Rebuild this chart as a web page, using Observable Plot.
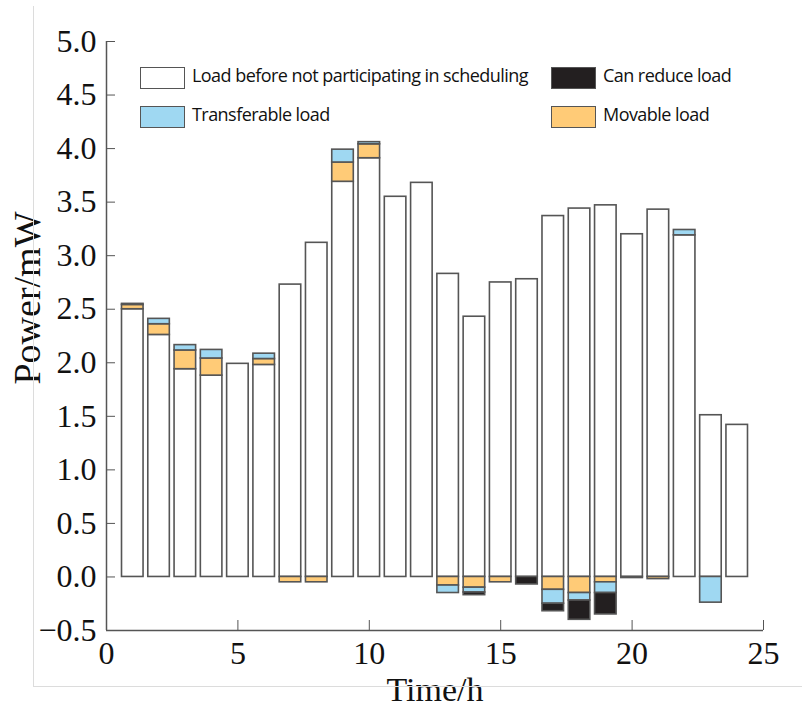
<!DOCTYPE html>
<html>
<head>
<meta charset="utf-8">
<script src="https://cdn.jsdelivr.net/npm/d3@7"></script>
<script src="https://cdn.jsdelivr.net/npm/@observablehq/plot@0.6"></script>
<style>
  html, body { margin: 0; padding: 0; background: #fff; }
  #wrap { position: relative; width: 802px; height: 712px; overflow: hidden; }
  #frame { position: absolute; left: 33px; top: 6px; width: 775px; height: 680px;
           border-left: 1px solid #dcdcdc; border-bottom: 1px solid #dcdcdc; pointer-events: none; }
  .leg { position: absolute; font-family: "Open Sans", sans-serif; font-size: 18px; color: #111;
         letter-spacing: -0.55px; white-space: nowrap; line-height: 1; }
  .sw { position: absolute; width: 45px; height: 22px; box-sizing: border-box; border: 1.5px solid #555; }
</style>
</head>
<body>
<div id="wrap">
  <div id="chart"></div>
  <div id="frame"></div>
  <div id="legend"></div>
</div>
<script>
// ---- data ----
const hours = [1,2,3,4,5,6,7,8,9,10,11,12,13,14,15,16,17,18,19,20,21,22,23,24];
const baseLoad     = [2.50,2.26,1.94,1.88,1.99,1.98,2.73,3.12,3.69,3.91,3.55,3.68,2.83,2.43,2.75,2.78,3.37,3.44,3.47,3.20,3.43,3.19,1.51,1.42];
const movableLoad  = [0.04,0.10,0.175,0.16,0,0.055,-0.05,-0.05,0.18,0.13,0,0,-0.08,-0.10,-0.05,0,-0.12,-0.15,-0.05,0,-0.02,0,0,0];
const transferLoad = [0,0.05,0.05,0.08,0,0.05,0,0,0.12,0.02,0,0,-0.07,-0.045,0,0,-0.13,-0.07,-0.10,0,0,0.05,-0.24,0];
const reduceLoad   = [0.01,0,0,0,0,0,0,0,0,0,0,0,0,-0.025,0,-0.07,-0.07,-0.18,-0.20,-0.01,0,0,0,0];

const seriesNames = ["Load before not participating in scheduling","Movable load","Transferable load","Can reduce load"];
const seriesColors = ["#ffffff","#ffcb77","#9fd8f2","#231f20"];
const xDomain = [0, 25];
const yDomain = [-0.5, 5];
const xTicks = [0,5,10,15,20,25];
const yTicks = [-0.5,0,0.5,1,1.5,2,2.5,3,3.5,4,4.5,5];
const xTitle = "Time/h";
const yTitle = "Power/mW";
const halfWidth = 0.41;

// build stacked segments
const seriesValues = [baseLoad, movableLoad, transferLoad, reduceLoad];
const segments = [];
hours.forEach((h, i) => {
  let pos = 0, neg = 0;
  seriesValues.forEach((vals, s) => {
    const v = vals[i];
    if (!v) return;
    let y1, y2;
    if (v > 0) { y1 = pos; y2 = pos + v; pos = y2; }
    else { y1 = neg; y2 = neg + v; neg = y2; }
    segments.push({hour: h, series: seriesNames[s], y1, y2});
  });
});

const serif = "'Liberation Serif', 'Times New Roman', serif";

const chart = Plot.plot({
  width: 802,
  height: 712,
  marginLeft: 106,
  marginRight: 39,
  marginTop: 41,
  marginBottom: 82,
  style: {fontFamily: serif, fontSize: "32px", color: "#111", background: "transparent", overflow: "visible"},
  x: {domain: xDomain},
  y: {domain: yDomain},
  color: {domain: seriesNames, range: seriesColors},
  marks: [
    Plot.rect(segments, {
      x1: d => d.hour - halfWidth, x2: d => d.hour + halfWidth,
      y1: "y1", y2: "y2", fill: "series",
      stroke: "#555", strokeWidth: 1.6
    }),
    Plot.ruleX([xDomain[0]], {stroke: "#555", strokeWidth: 1.5}),
    Plot.ruleY([yDomain[0]], {stroke: "#555", strokeWidth: 1.5}),
    Plot.axisY({ticks: yTicks, tickSize: -9, tickPadding: 19, stroke: "#555",
      tickFormat: d => d3.format(".1f")(d).replace("-", "\u2212"),
      label: null, fontSize: 32}),
    Plot.axisX({ticks: xTicks, tickSize: -10, tickPadding: 21, stroke: "#555",
      tickFormat: d => String(d),
      label: null, fontSize: 32}),
    Plot.text([yTitle], {frameAnchor: "left", rotate: -90, dx: -79, dy: -38,
      fontSize: 38, fill: "#111", textAnchor: "middle", lineAnchor: "middle"}),
    Plot.text([xTitle], {frameAnchor: "bottom", dy: 60, fontSize: 34, fill: "#111",
      textAnchor: "middle", lineAnchor: "middle"})
  ]
});
document.getElementById("chart").appendChild(chart);

// legend (HTML overlay inside the plot area)
const legendItems = [
  {name: seriesNames[0], color: seriesColors[0], left: 140, top: 67},
  {name: seriesNames[2], color: seriesColors[2], left: 140, top: 106},
  {name: seriesNames[3], color: seriesColors[3], left: 551, top: 67},
  {name: seriesNames[1], color: seriesColors[1], left: 551, top: 106}
];
const leg = document.getElementById("legend");
legendItems.forEach(it => {
  const sw = document.createElement("div");
  sw.className = "sw";
  sw.style.left = it.left + "px"; sw.style.top = it.top + "px";
  sw.style.background = it.color;
  leg.appendChild(sw);
  const t = document.createElement("div");
  t.className = "leg";
  t.textContent = it.name;
  t.style.left = (it.left + 52) + "px"; t.style.top = (it.top - 1) + "px";
  leg.appendChild(t);
});
</script>
</body>
</html>
